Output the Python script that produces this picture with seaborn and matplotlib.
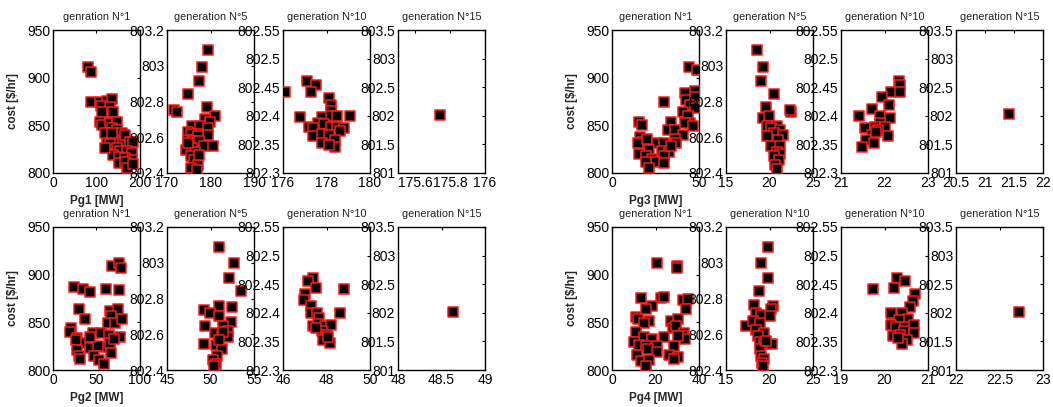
import numpy as np
import pandas as pd
import matplotlib
matplotlib.use("Agg")
import matplotlib.pyplot as plt
import seaborn as sns
from matplotlib.ticker import FuncFormatter

sns.set_style("white")
plt.rcParams['font.family'] = ['Liberation Sans', 'DejaVu Sans']

# ---------------- data ----------------
# Pg1
pg1_g1_x = [81, 88, 88, 108, 123, 135, 110, 131, 137, 112, 108, 112, 131, 146, 135, 148, 158, 127, 123, 142,
            160, 165, 177, 185, 131, 146, 155, 171, 181, 138, 152, 165, 181, 152, 165, 171, 183, 119, 135, 119]
pg1_g1_y = [911.6, 906, 874, 875, 876, 878, 870, 869, 864, 864, 854, 850, 852, 854, 847, 845, 842, 837, 833, 835,
            832, 840, 833, 833, 830, 826, 823, 823, 821, 819, 817, 816, 814, 811, 812, 805, 809, 842, 842, 826]
pg1_g5_x = [179.5, 178.0, 177.4, 174.8, 171.7, 172.4, 179.2, 181.1, 178.7, 179.8, 175.8, 177.7, 179.5, 174.9, 177.2,
            179.5, 175.6, 177.2, 174.8, 175.8, 177.3, 178.5, 180.5, 174.4, 175.8, 176.4, 175.6, 176.1, 177.1, 175.5,
            177.0, 174.9, 177.3]
pg1_g5_y = [803.09, 802.995, 802.917, 802.843, 802.75, 802.742, 802.768, 802.72, 802.703, 802.688, 802.664, 802.664,
            802.65, 802.63, 802.62, 802.614, 802.62, 802.605, 802.586, 802.577, 802.577, 802.55, 802.55, 802.527,
            802.54, 802.52, 802.493, 802.47, 802.446, 802.428, 802.418, 802.568, 802.502]
pg1_g10_x = [176.1, 177.1, 177.5, 177.3, 178.1, 178.2, 178.2, 176.8, 177.8, 178.2, 178.5, 179.1, 177.2, 177.6,
             177.9, 178.2, 178.5, 178.8, 177.4, 177.4, 177.8, 178.1, 178.6, 177.8, 178.4, 178.4, 178.1]
pg1_g10_y = [802.441, 802.46, 802.454, 802.442, 802.431, 802.419, 802.409, 802.398, 802.398, 802.399, 802.4, 802.4,
             802.381, 802.388, 802.386, 802.381, 802.38, 802.378, 802.378, 802.364, 802.369, 802.367, 802.374,
             802.353, 802.357, 802.345, 802.349]
pg1_g15_x = [175.74]
pg1_g15_y = [802.02]

# Pg2
pg2_g1_x = [67.8, 75.6, 78.3, 24, 34, 42, 29.5, 61, 76, 66, 74.4, 66.7, 37, 63, 71, 79, 21, 19.4, 45.7, 55.4,
            64, 77.5, 28, 34, 27, 42, 55, 52, 66, 28, 30, 47, 53, 59, 67, 31, 70, 42.6]
pg2_g1_y = [909, 912, 907, 887, 885, 882, 864, 885, 884, 862, 864, 857, 853, 849, 849, 853, 844, 840, 839, 839,
            837, 835, 834, 828, 831, 823, 824, 825, 828, 821, 815, 815, 810, 806, 818, 812, 833, 835]
pg2_g5_x = [51.0, 52.7, 52.1, 53.5, 51.0, 52.5, 49.2, 49.9, 51.0, 49.4, 52.4, 51.4, 52.0, 50.5, 51.3, 52.0, 49.2,
            50.6, 51.3, 50.8, 50.3, 50.6, 50.4, 51.4, 51.0]
pg2_g5_y = [803.09, 802.996, 802.913, 802.844, 802.76, 802.752, 802.737, 802.719, 802.7, 802.648, 802.667, 802.648,
            802.617, 802.607, 802.589, 802.583, 802.548, 802.539, 802.515, 802.478, 802.456, 802.431, 802.422,
            802.611, 802.57]
pg2_g10_x = [47.37, 47.15, 47.52, 48.8, 47.02, 46.95, 47.3, 47.28, 48.6, 47.55, 47.66, 47.4, 47.63, 47.94, 48.2,
             47.79, 48.0, 47.85, 48.16, 48.08, 47.52]
pg2_g10_y = [802.46, 802.455, 802.444, 802.442, 802.433, 802.422, 802.412, 802.4, 802.4, 802.4, 802.391, 802.377,
             802.381, 802.377, 802.379, 802.368, 802.362, 802.353, 802.347, 802.357, 802.374]
pg2_g15_x = [48.63]
pg2_g15_y = [802.01]

# Pg3
pg3_g1_x = [44, 49, 30, 42, 47.5, 42.6, 47.5, 45, 47.7, 40.7, 43.6, 34, 45, 42, 46.4, 15.5, 17, 32, 36, 40.7,
            16, 17.4, 15, 20, 26, 30, 36, 37, 21.3, 28.5, 32.5, 15.5, 19.4, 23, 30, 25, 30, 19.4, 21.3, 34]
pg3_g1_y = [911.6, 908, 874, 884.4, 886.5, 876.7, 880, 871.5, 868, 863.5, 860, 854, 852.3, 852.3, 849.5, 853,
            850.6, 845.4, 844.7, 840, 837.7, 832, 831.9, 835.9, 831, 831.5, 835.9, 831.5, 824.4, 822.7, 821.6,
            820.3, 817.5, 815, 817.5, 811.7, 811, 811.7, 805.7, 828]
pg3_g5_x = [18.6, 19.2, 19.0, 20.5, 22.5, 22.3, 19.6, 19.3, 19.9, 19.7, 20.9, 20.2, 21.2, 20.5, 19.7, 21.5, 21.0,
            20.2, 21.2, 20.9, 21.2, 20.5, 21.1, 20.6, 20.9]
pg3_g5_y = [803.09, 802.995, 802.917, 802.843, 802.744, 802.754, 802.768, 802.707, 802.72, 802.664, 802.664,
            802.65, 802.638, 802.623, 802.605, 802.614, 802.586, 802.55, 802.55, 802.52, 802.508, 802.493, 802.47,
            802.446, 802.422]
pg3_g10_x = [22.33, 22.36, 22.16, 22.36, 21.94, 22.1, 21.71, 21.42, 21.9, 22.12, 21.89, 21.56, 21.79, 22.02, 21.86,
             21.71, 22.07, 21.58, 21.75, 21.48, 21.81]
pg3_g10_y = [802.46, 802.454, 802.441, 802.442, 802.432, 802.419, 802.412, 802.4, 802.399, 802.397, 802.388,
             802.378, 802.381, 802.381, 802.376, 802.367, 802.364, 802.358, 802.352, 802.345, 802.372]
pg3_g15_x = [21.42]
pg3_g15_y = [802.03]

# Pg4
pg4_g1_x = [20.6, 29.8, 30, 22.5, 24, 13.2, 18.6, 15.5, 32.6, 35, 34, 10.9, 12, 17.1, 14.7, 27, 30.2, 28, 29.5,
            10.9, 33.3, 32.6, 14.7, 18.6, 24, 33.6, 10, 12.4, 15.5, 20.9, 16.6, 28.7, 11.6, 20.9, 26.4, 30.2, 28.7,
            13.3, 16.9, 15.8, 30.5]
pg4_g1_y = [911.8, 909, 906.6, 876, 877, 875.3, 867.4, 863.9, 873, 874.3, 864, 856, 853.5, 851, 849.3, 851, 853.5,
            844, 845.8, 839.6, 838.9, 836, 834.4, 832, 834.7, 832, 829, 826.7, 825, 825, 822.2, 825, 815.3, 818.8,
            815.3, 814, 812, 809.4, 811, 804.2, 835.4]
pg4_g5_x = [19.8, 19.0, 19.8, 18.8, 18.2, 18.4, 19.0, 20.4, 20.2, 20.0, 17.3, 18.1, 18.9, 18.4, 19.4, 18.7, 18.9,
            19.4, 20.3, 18.9, 19.0, 19.4, 19.1, 19.3, 19.6]
pg4_g5_y = [803.09, 802.996, 802.913, 802.844, 802.765, 802.719, 802.709, 802.756, 802.741, 802.704, 802.648,
            802.672, 802.663, 802.622, 802.607, 802.589, 802.556, 802.543, 802.548, 802.515, 802.478, 802.459,
            802.441, 802.422, 802.561]
pg4_g10_x = [19.73, 20.29, 20.48, 20.21, 20.7, 20.66, 20.58, 20.18, 20.14, 20.41, 20.54, 20.34, 20.14, 20.27, 20.48,
             20.68, 20.44, 20.68, 20.2, 20.36, 20.51, 20.4, 20.32]
pg4_g10_y = [802.441, 802.46, 802.455, 802.443, 802.433, 802.42, 802.411, 802.398, 802.4, 802.4, 802.389, 802.388,
             802.378, 802.376, 802.375, 802.378, 802.368, 802.364, 802.359, 802.362, 802.353, 802.346, 802.356]
pg4_g15_x = [22.72]
pg4_g15_y = [802.02]

# axis ranges / ticks
y_ticks_g1 = [800, 850, 900, 950]
y_ticks_g5 = [802.4, 802.6, 802.8, 803.0, 803.2]
y_ticks_g10 = [802.3, 802.35, 802.4, 802.45, 802.5, 802.55]
y_ticks_g15 = [801, 801.5, 802, 802.5, 803, 803.5]

x_ticks = {
    "Pg1": [[0, 100, 200], [170, 180, 190], [176, 178, 180], [175.6, 175.8, 176]],
    "Pg2": [[0, 50, 100], [45, 50, 55], [46, 48, 50], [48, 48.5, 49]],
    "Pg3": [[0, 50], [15, 20, 25], [21, 22, 23], [20.5, 21, 21.5, 22]],
    "Pg4": [[0, 20, 40], [15, 20, 25], [19, 20, 21], [22, 22.5, 23]],
}
x_lims = {
    "Pg1": [(0, 200), (170, 190), (176, 180), (175.5, 176)],
    "Pg2": [(0, 100), (45, 55), (46, 50), (48, 49)],
    "Pg3": [(0, 50), (15, 25), (21, 23), (20.5, 22)],
    "Pg4": [(0, 40), (15, 25), (19, 21), (22, 23)],
}
titles = {
    "Pg1": ["genration N°1", "generation N°5", "generation N°10", "generation N°15"],
    "Pg2": ["genration N°1", "generation N°5", "generation N°10", "generation N°15"],
    "Pg3": ["generation N°1", "generation N°5", "generation N°10", "generation N°15"],
    "Pg4": ["generation N°1", "generation N°10", "generation N°10", "generation N°15"],
}
data = {
    "Pg1": [(pg1_g1_x, pg1_g1_y), (pg1_g5_x, pg1_g5_y), (pg1_g10_x, pg1_g10_y), (pg1_g15_x, pg1_g15_y)],
    "Pg2": [(pg2_g1_x, pg2_g1_y), (pg2_g5_x, pg2_g5_y), (pg2_g10_x, pg2_g10_y), (pg2_g15_x, pg2_g15_y)],
    "Pg3": [(pg3_g1_x, pg3_g1_y), (pg3_g5_x, pg3_g5_y), (pg3_g10_x, pg3_g10_y), (pg3_g15_x, pg3_g15_y)],
    "Pg4": [(pg4_g1_x, pg4_g1_y), (pg4_g5_x, pg4_g5_y), (pg4_g10_x, pg4_g10_y), (pg4_g15_x, pg4_g15_y)],
}
y_ticks = [y_ticks_g1, y_ticks_g5, y_ticks_g10, y_ticks_g15]

# ---------------- layout ----------------
W, H = 1053, 407
fig = plt.figure(figsize=(W / 100, H / 100), dpi=100)
col_left = {"Pg1": [53, 167, 283, 398], "Pg2": [53, 167, 283, 398],
            "Pg3": [612, 726, 841, 956], "Pg4": [612, 726, 841, 956]}
row_top = {"Pg1": 30, "Pg2": 227, "Pg3": 30, "Pg4": 227}
ax_w, ax_h = 87, 143

fmt = FuncFormatter(lambda v, p: "%g" % round(v, 4))

for gen in ["Pg1", "Pg2", "Pg3", "Pg4"]:
    for k in range(4):
        l = col_left[gen][k]
        t = row_top[gen]
        ax = fig.add_axes([l / W, 1 - (t + ax_h) / H, ax_w / W, ax_h / H])
        xs, ys = data[gen][k]
        df = pd.DataFrame({"x": xs, "y": ys})
        sns.scatterplot(data=df, x="x", y="y", ax=ax, marker="s", color="black",
                        edgecolor="#ff1a1a", linewidth=1.1, s=44, zorder=3)
        ax.set_xlim(*x_lims[gen][k])
        yt = y_ticks[k]
        ax.set_ylim(yt[0], yt[-1])
        ax.set_xticks(x_ticks[gen][k])
        ax.set_yticks(yt)
        ax.xaxis.set_major_formatter(fmt)
        ax.yaxis.set_major_formatter(fmt)
        ax.tick_params(direction="in", length=2.5, width=0.8, top=True, right=True,
                       labelsize=10, pad=2, colors="black")
        for sp in ax.spines.values():
            sp.set_visible(True)
            sp.set_color("black")
            sp.set_linewidth(1.0)
        ax.set_title(titles[gen][k], fontsize=7.8, pad=7, color="#222222")
        if k == 0:
            ax.set_ylabel("cost [$/hr]", fontsize=8.3, fontweight="bold", labelpad=6)
            ax.set_xlabel(gen + " [MW]", fontsize=8.5, fontweight="bold", labelpad=4)
        else:
            ax.set_ylabel("")
            ax.set_xlabel("")

fig.savefig("out.png", dpi=100)
